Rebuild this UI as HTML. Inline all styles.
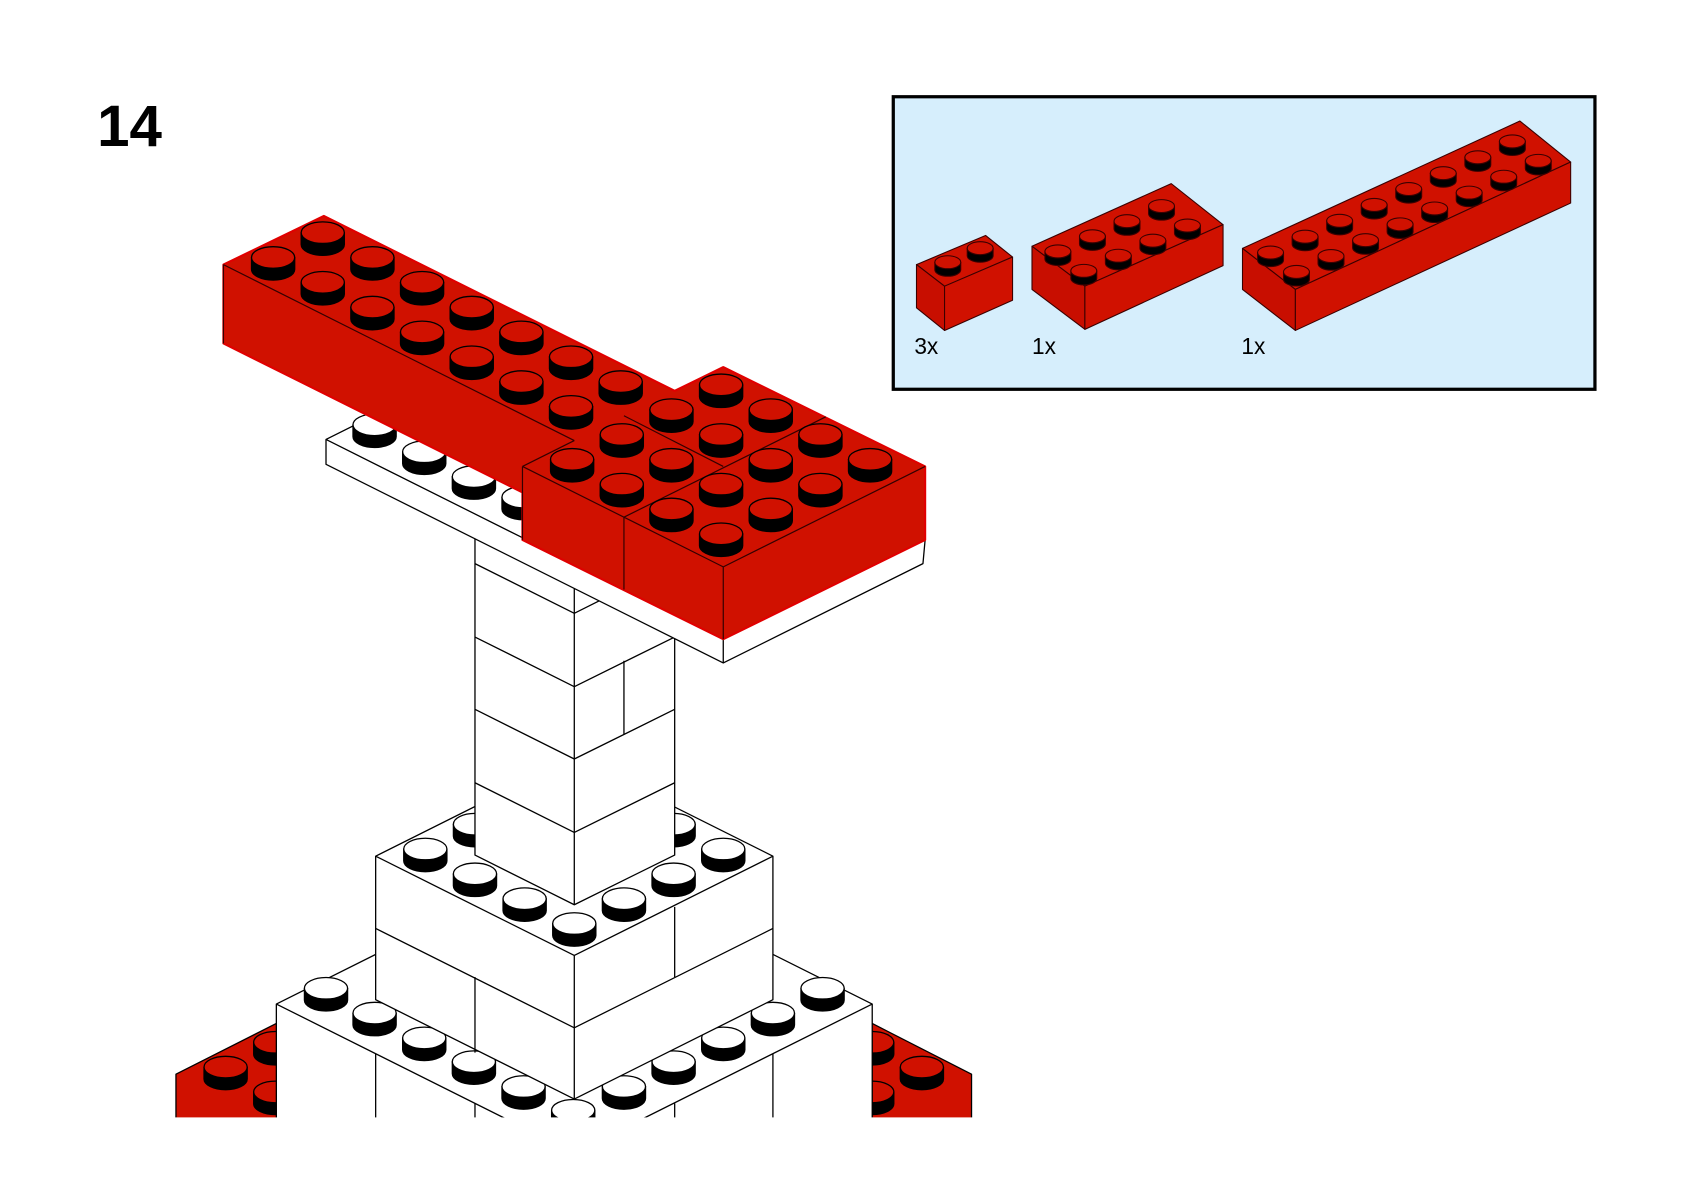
<!DOCTYPE html>
<html><head><meta charset="utf-8"><style>
html,body{margin:0;padding:0;background:#fff;}
svg{display:block;}
</style></head><body>
<svg id="s" width="1684" height="1192" viewBox="0 0 1560 1104" xmlns="http://www.w3.org/2000/svg">
<rect width="1560" height="1104" fill="#fff"/>
<text x="90" y="135" font-family="Liberation Sans, sans-serif" font-weight="bold" font-size="54">14</text>
<g id="main" stroke="#000" stroke-width="1.2" stroke-linejoin="round"></g>
<rect x="0" y="1035" width="1560" height="80" fill="#fff"/>
<rect x="827.5" y="89.5" width="650" height="271" fill="#d6eefc" stroke="#000" stroke-width="3"/>
<g id="inset" stroke="#3a0000" stroke-width="1" stroke-linejoin="round"></g>
<g font-family="Liberation Sans, sans-serif" font-size="21" fill="#000">
<text x="847" y="328">3x</text><text x="956" y="328">1x</text><text x="1150" y="328">1x</text>
</g>
</svg>
<script>
var NS="http://www.w3.org/2000/svg";
function el(g,t,a){var e=document.createElementNS(NS,t);for(var k in a)e.setAttribute(k,a[k]);g.appendChild(e);return e;}
function poly(g,pts,fill,extra){var a={points:pts,fill:fill};for(var k in extra)a[k]=extra[k];return el(g,"polygon",a);}
function line(g,x1,y1,x2,y2){el(g,"line",{x1:x1,y1:y1,x2:x2,y2:y2});}
function stud(g,cx,cy,col,rx,ry,h){rx=rx||20;ry=ry||10;h=h||11;
 var top=cy-h*0.6;
 el(g,"path",{d:"M"+(cx-rx)+","+top+" L"+(cx-rx)+","+(top+h)+" A"+rx+","+ry+" 0 0 0 "+(cx+rx)+","+(top+h)+" L"+(cx+rx)+","+top+" Z",fill:"#000"});
 el(g,"ellipse",{cx:cx,cy:top,rx:rx,ry:ry,fill:col});}
function grid(g,Lx,Ly,ni,nj,col,skip){var a=[];for(var i=0;i<ni;i++)for(var j=0;j<nj;j++){var x=Lx+46*(i+j+1),y=Ly+23*(i-j);if(skip&&skip(x,y))continue;a.push([x,y]);}
 a.sort(function(p,q){return p[1]-q[1];});a.forEach(function(p){stud(g,p[0],p[1],col);});}
var g=document.getElementById("main");
var R="#d01100",W="#fff";
// red bits at bottom sides
poly(g,"163,995 256,948 348,995 348,1040 163,1040",R);
grid(g,163,995,2,2,R);
poly(g,"716,995 808,948 900,995 900,1040 716,1040",R);
grid(g,716,995,2,2,R);
// tier3
poly(g,"256,930 532,792 808,930 808,1040 256,1040",W);
line(g,256,930,532,1068);line(g,532,1068,808,930);
line(g,348,976,348,1040);line(g,716,976,716,1040);line(g,625,1022,625,1040);line(g,440,1022,440,1040);
[[302,922],[762,922],[347,945],[716,945],[393,968],[670,968],[439,990],[624,990],[485,1013],[578,1013],[531,1035]].forEach(function(p){stud(g,p[0],p[1],W);});
// tier2
poly(g,"348,793 532,701 716,793 716,926 532,1018 348,926",W);
line(g,348,793,532,885);line(g,532,885,716,793);line(g,532,885,532,1018);
line(g,348,860,532,952);line(g,532,952,716,860);line(g,625,840,625,905);line(g,440,905,440,975);
grid(g,348,793,4,4,W);
// column
poly(g,"440,470 625,470 625,792 532,838 440,792",W);
line(g,532,520,532,838);
line(g,440,522,532,568);line(g,532,568,560,554);
line(g,440,590,532,636);line(g,532,636,625,590);
line(g,440,657,532,703);line(g,532,703,625,657);
line(g,440,725,532,771);line(g,532,771,625,725);
line(g,578,612,578,680);
// plate
poly(g,"302,407 400,358 857,500 855,522 670,614 302,430",W);
line(g,302,407,484,498);line(g,670,592,670,614);
[[347,400],[393,425],[439,448],[485,467]].forEach(function(p){stud(g,p[0],p[1],W);});
// red composite
poly(g,"207,245 300,200 625,362 670,340 857,432 857,500 670,592 484,500 484,456 207,318",R,{stroke:"#e00000","stroke-width":2});
var rg=el(g,"g",{stroke:"#300","stroke-width":1.1});
line(rg,207,245,532,408);line(rg,207,245,207,318);line(rg,484,432,532,408);
line(rg,484,432,670,525);line(rg,670,525,857,432);line(rg,670,525,670,592);
line(rg,484,432,484,500);line(rg,578,479,578,546);
line(rg,578,479,765,386);line(rg,578,385,670,432);
grid(g,207,245,7,2,R);
grid(g,484,432,4,4,R);
// inset bricks
var ig=document.getElementById("inset");
function ibrick(top,l,r,studs){poly(ig,top,R);poly(ig,l,"#c80e00");poly(ig,r,R);studs.forEach(function(p){stud(ig,p[0],p[1],R,12,6,7);});}
ibrick("849,245 913,218 938,238 875,265","849,245 875,265 875,306 849,285","875,265 938,238 938,278 875,306",[[878,247],[908,234]]);
var s2=[];for(var i=0;i<4;i++)for(var j=0;j<2;j++)s2.push([980+32*i+24*j,237-14*i+18*j]);
s2.sort(function(a,b){return a[1]-b[1];});
ibrick("956,228 1085,170 1133,208 1005,265","956,228 1005,265 1005,305 956,268","1005,265 1133,208 1133,246 1005,305",s2);
var s3=[];for(var i=0;i<8;i++)for(var j=0;j<2;j++)s3.push([1177+32*i+24*j,238-14.7*i+18*j]);
s3.sort(function(a,b){return a[1]-b[1];});
ibrick("1151,230 1408,112 1455,150 1200,268","1151,230 1200,268 1200,306 1151,268","1200,268 1455,150 1455,188 1200,306",s3);
</script>
</body></html>
